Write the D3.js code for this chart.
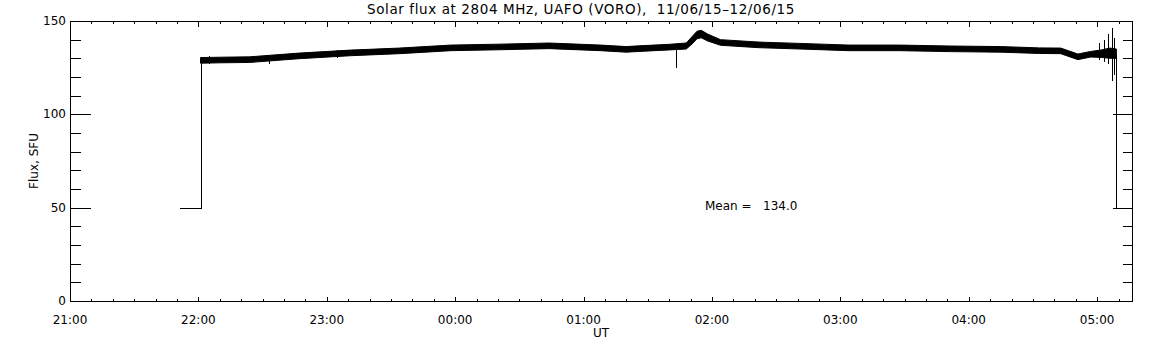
<!DOCTYPE html>
<html>
<head>
<meta charset="utf-8">
<script src="https://cdn.jsdelivr.net/npm/d3@7"></script>
<style>
  body { margin: 0; background: #fff; }
  text { font-family: "DejaVu Sans", sans-serif; fill: #000; }
</style>
</head>
<body>
<div id="chart"></div>
<script>
// flux band (lower/upper edge of the noisy trace)
var times  = ["22:01","22:10","22:24","22:47","23:11","23:34","23:58","00:21","00:44","01:08","01:20","01:26","01:40","01:48","01:51","01:53","01:55","01:58","02:04","02:22","02:41","03:04","03:28","03:51","04:15","04:33","04:43","04:51","04:57","05:02","05:06","05:09"];
var fluxLo = [127.4,127.6,127.8,129.8,131.4,132.5,134.1,134.6,135.2,134.1,133.3,133.7,134.5,135.0,138.0,140.5,141.0,139.3,137.0,135.7,135.0,134.1,134.1,133.6,133.3,132.6,132.5,129.3,130.7,130.5,130.0,130.0];
var fluxHi = [130.4,130.6,130.8,132.8,134.4,135.5,137.1,137.6,138.2,137.1,136.3,136.7,137.5,138.2,142.0,144.5,145.0,143.0,140.0,138.7,138.0,137.1,137.1,136.6,136.3,135.6,135.5,132.3,133.7,134.5,135.5,135.0];

// start / end steps at the 50 SFU level
var edgeStart = ["21:51","22:01","22:01"];
var edgeStartFlux = [50, 50, 129];
var edgeEnd = ["05:09","05:09"];
var edgeEndFlux = [132.5, 50];

// single spikes
var spikeTimes = ["22:05","22:33","23:05","01:43","05:01","05:03","05:05","05:07","05:08"];
var spikeLo    = [127, 127, 130, 125.0, 129, 128, 127, 118, 121];
var spikeHi    = [131.5, 131.5, 134.5, 136, 138, 140, 143, 146.5, 141];

var yTicks = [0, 50, 100, 150];
var meanText = "Mean =   134.0";
var title = "Solar flux at 2804 MHz, UAFO (VORO),  11/06/15\u201312/06/15";

var w = 1152, h = 345;
var mLeft = 70, mRight = 1132, mTop = 21, mBottom = 301;

var parse = d3.utcParse("%H:%M");
function toDate(s) {
    var d = parse(s);
    if (d.getUTCHours() < 12) d = d3.utcDay.offset(d, 1);
    return d;
}

var t0 = toDate("21:00");
var t1 = new Date(t0.getTime() + 496.3 * 60000);

var x = d3.scaleUtc().domain([t0, t1]).range([mLeft, mRight]);
var y = d3.scaleLinear().domain([0, 150]).range([mBottom, mTop]);

var svg = d3.select("#chart")
            .append("svg")
            .attr("width", w)
            .attr("height", h)
            .attr("shape-rendering", "crispEdges");

svg.append("rect").attr("width", w).attr("height", h).attr("fill", "#fff");

// frame
svg.append("rect")
    .attr("x", mLeft + 0.5).attr("y", mTop + 0.5)
    .attr("width", mRight - mLeft).attr("height", mBottom - mTop)
    .attr("fill", "none").attr("stroke", "#000");

var hours = d3.utcHour.every(1).range(t0, t1);
var minor = d3.utcMinute.every(10).range(t0, t1);
var yMinor = d3.range(0, 151, 10);

var g = svg.append("g").attr("stroke", "#000").attr("stroke-width", 1);

// x ticks, bottom and top
minor.forEach(function(d) {
    var px = Math.round(x(d)) + 0.5;
    var len = d.getUTCMinutes() === 0 ? 5 : 2.5;
    g.append("line").attr("x1", px).attr("x2", px).attr("y1", mBottom + 0.5).attr("y2", mBottom + 0.5 - len);
    g.append("line").attr("x1", px).attr("x2", px).attr("y1", mTop + 0.5).attr("y2", mTop + 0.5 + len);
});

// y ticks, left and right
yMinor.forEach(function(v) {
    var py = Math.round(y(v)) + 0.5;
    var len = v % 50 === 0 ? 20 : 10;
    g.append("line").attr("x1", mLeft + 0.5).attr("x2", mLeft + 0.5 + len).attr("y1", py).attr("y2", py);
    g.append("line").attr("x1", mRight + 0.5).attr("x2", mRight + 0.5 - len).attr("y1", py).attr("y2", py);
});

svg.selectAll("text.ylab")
    .data(yTicks)
    .enter()
    .append("text")
    .attr("class", "ylab")
    .attr("x", mLeft - 4)
    .attr("y", function(d) { return y(d) + 4; })
    .attr("text-anchor", "end")
    .attr("font-size", "12px")
    .text(function(d) { return d; });

svg.selectAll("text.xlab")
    .data(hours)
    .enter()
    .append("text")
    .attr("class", "xlab")
    .attr("x", function(d) { return x(d); })
    .attr("y", 324)
    .attr("text-anchor", "middle")
    .attr("font-size", "12px")
    .text(d3.utcFormat("%H:%M"));

svg.append("text")
    .attr("x", (mLeft + mRight) / 2)
    .attr("y", 337)
    .attr("text-anchor", "middle")
    .attr("font-size", "12px")
    .text("UT");

svg.append("text")
    .attr("transform", "translate(38," + ((mTop + mBottom) / 2) + ") rotate(-90)")
    .attr("text-anchor", "middle")
    .attr("font-size", "12px")
    .text("Flux, SFU");

svg.append("text")
    .attr("x", 581)
    .attr("y", 14)
    .attr("text-anchor", "middle")
    .attr("font-size", "13.5px")
    .attr("letter-spacing", "0.6px")
    .style("white-space", "pre")
    .text(title);

svg.append("text")
    .attr("x", 705)
    .attr("y", 210)
    .attr("font-size", "12px")
    .style("white-space", "pre")
    .text(meanText);

// data
var band = times.map(function(t, i) { return { t: toDate(t), lo: fluxLo[i], hi: fluxHi[i] }; });

svg.append("path")
    .datum(band)
    .attr("shape-rendering", "auto")
    .attr("fill", "#000")
    .attr("stroke", "#000")
    .attr("stroke-width", 1)
    .attr("d", d3.area()
        .x(function(d) { return x(d.t); })
        .y0(function(d) { return y(d.lo); })
        .y1(function(d) { return y(d.hi); }));

var line = d3.line()
    .x(function(d) { return Math.round(x(d[0])) + 0.5; })
    .y(function(d) { return Math.round(y(d[1])) + 0.5; });

[[edgeStart, edgeStartFlux], [edgeEnd, edgeEndFlux]].forEach(function(p) {
    svg.append("path")
        .datum(p[0].map(function(t, i) { return [toDate(t), p[1][i]]; }))
        .attr("fill", "none")
        .attr("stroke", "#000")
        .attr("stroke-width", 1)
        .attr("d", line);
});

svg.selectAll("line.spike")
    .data(spikeTimes)
    .enter()
    .append("line")
    .attr("class", "spike")
    .attr("x1", function(d) { return Math.round(x(toDate(d))) + 0.5; })
    .attr("x2", function(d) { return Math.round(x(toDate(d))) + 0.5; })
    .attr("y1", function(d, i) { return y(spikeLo[i]); })
    .attr("y2", function(d, i) { return y(spikeHi[i]); })
    .attr("stroke", "#000");
</script>
</body>
</html>
